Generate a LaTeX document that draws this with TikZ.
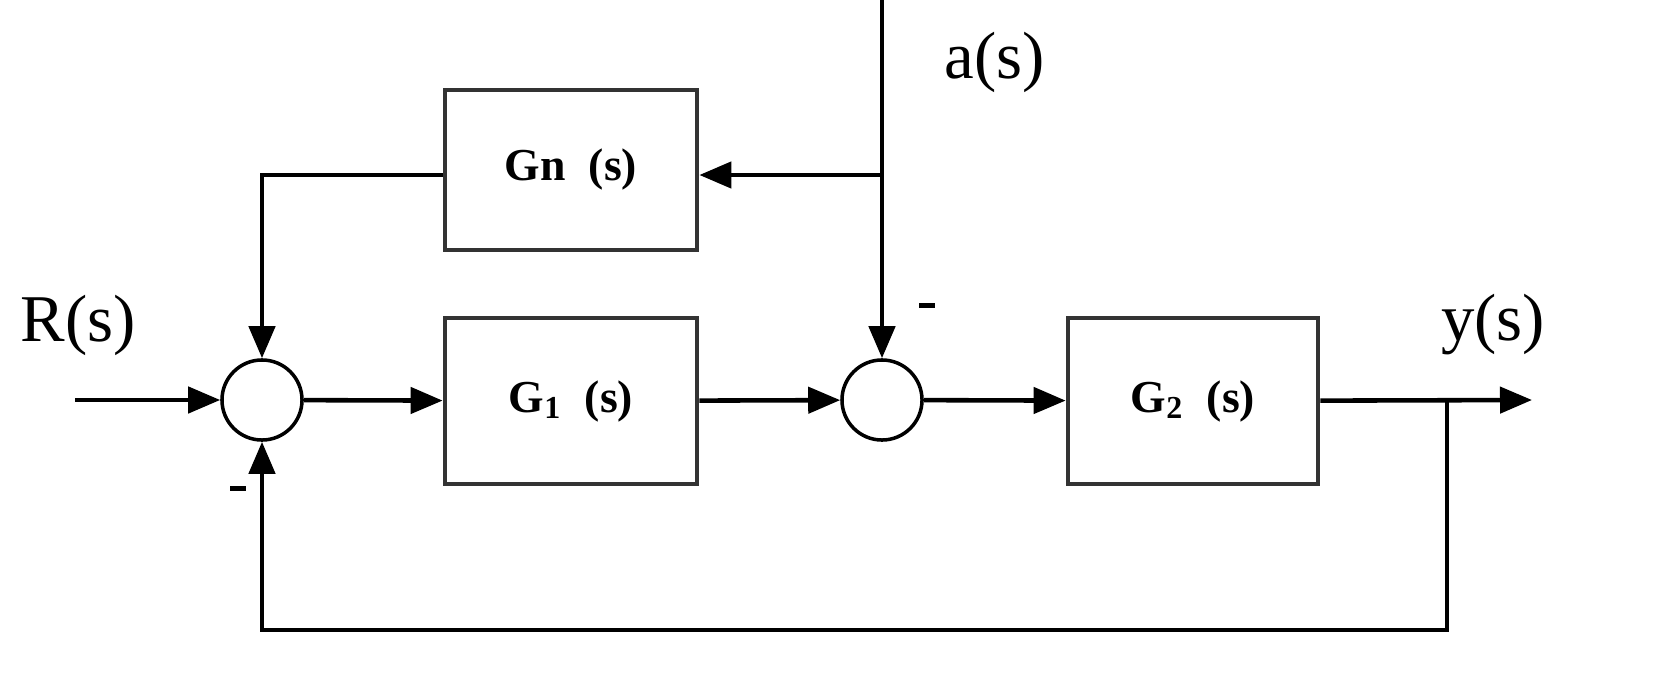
\documentclass[tikz,border=0pt]{standalone}
\usepackage{fontspec}
\setmainfont{Liberation Serif}
\usetikzlibrary{arrows.meta}
\begin{document}
\begin{tikzpicture}[x=0.01cm,y=-0.01cm,
  blk/.style={draw=black!80,line width=1.3pt,inner sep=0,font=\bfseries\fontsize{13}{15}\selectfont},
  sum/.style={draw,circle,line width=1pt,minimum size=0.8cm,inner sep=0},
  ln/.style={line width=1.3pt},
  arr/.style={ln,-{Triangle[length=0.32cm,width=0.26cm]}},
  lbl/.style={font=\fontsize{19}{22}\selectfont},
  mns/.style={inner sep=0,minimum width=0.16cm,minimum height=0.05cm,fill=black}]
\useasboundingbox (0,0) rectangle (1661,694);
\node[blk,minimum width=2.52cm,minimum height=1.66cm] (g1) at (571,401) {G\textsubscript{1}\ \ (s)};
\node[blk,minimum width=2.5cm,minimum height=1.66cm] (g2) at (1193,401) {G\textsubscript{2}\ \ (s)};
\node[blk,minimum width=2.52cm,minimum height=1.6cm] (gn) at (571,170) {Gn\ \ (s)};
\node[sum] (s1) at (262,400) {};
\node[sum] (s2) at (882,400) {};
\coordinate (in) at (75,400);
\coordinate (out) at (1532,400);
\coordinate (top) at (882,0);
\coordinate (br) at (882,175);
\coordinate (fb) at (1447,400);
\node[lbl] (R) at (78,325) {R(s)};
\node[lbl] (Y) at (1493,325) {y(s)};
\node[lbl] (A) at (995,62) {a(s)};
\node[mns] (m1) at (927,305) {};
\node[mns] (m2) at (238,488) {};
\draw[arr] (in) -- (s1);
\draw[arr] (s1) -- (g1);
\draw[arr] (g1) -- (s2);
\draw[arr] (s2) -- (g2);
\draw[arr] (g2) -- (out);
\draw[arr] (top) -- (s2);
\draw[arr] (br) -- (gn.east |- br);
\draw[arr] (gn.west |- br) -| (s1);
\draw[arr] (fb) -- (1447,630) -| (s1);
\end{tikzpicture}
\end{document}
